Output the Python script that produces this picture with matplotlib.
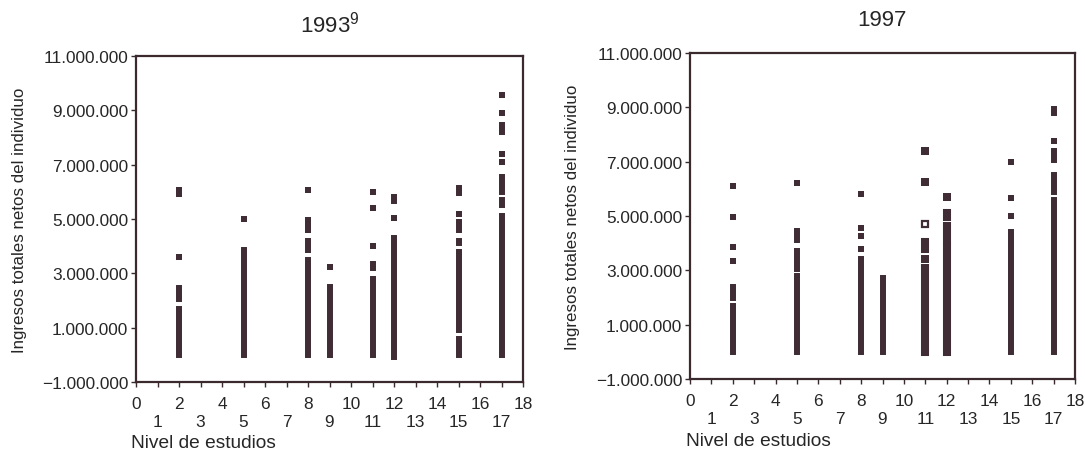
import matplotlib
matplotlib.use("Agg")
import matplotlib.pyplot as plt
from matplotlib.ticker import FuncFormatter, FixedLocator

plt.rcParams['font.family'] = ['Liberation Sans', 'DejaVu Sans']
plt.rcParams['mathtext.fontset'] = 'custom'
plt.rcParams['mathtext.rm'] = 'Liberation Sans'

# Income (pesetas) by education level.
# Runs: stretches of densely stacked observations (level, low, high).
runs_1993 = [
    (2, 0, 1_700_000), (2, 2_050_000, 2_450_000),
    (5, 0, 3_850_000),
    (8, 0, 3_500_000), (8, 3_850_000, 4_200_000),
    (9, 0, 2_500_000),
    (11, 0, 2_800_000), (11, 3_200_000, 3_350_000),
    (12, -80_000, 4_300_000), (12, 5_650_000, 5_800_000),
    (15, 0, 600_000), (15, 900_000, 3_800_000), (15, 4_100_000, 4_200_000),
    (15, 4_600_000, 4_900_000), (15, 5_950_000, 6_150_000),
    (17, 0, 5_100_000), (17, 5_500_000, 5_700_000), (17, 6_000_000, 6_550_000),
    (17, 8_200_000, 8_450_000),
]
# Isolated observations (level, income).
points_1993 = [
    (2, 6_050_000), (2, 5_920_000), (2, 3_600_000),
    (5, 5_000_000),
    (8, 6_050_000), (8, 4_950_000), (8, 4_820_000), (8, 4_600_000),
    (9, 3_250_000),
    (11, 6_000_000), (11, 5_400_000), (11, 4_000_000),
    (12, 5_050_000),
    (15, 5_200_000),
    (17, 9_550_000), (17, 8_900_000), (17, 7_400_000), (17, 7_100_000),
]

runs_1997 = [
    (2, 0, 1_700_000), (2, 2_000_000, 2_400_000),
    (5, 0, 2_800_000), (5, 3_050_000, 3_700_000), (5, 4_100_000, 4_450_000),
    (8, 0, 3_400_000),
    (9, 0, 2_700_000),
    (11, 0, 3_100_000), (11, 3_800_000, 4_050_000),
    (12, 0, 3_850_000), (12, 4_100_000, 4_650_000), (12, 4_950_000, 5_100_000),
    (15, 0, 4_400_000),
    (17, 0, 5_600_000), (17, 5_900_000, 6_500_000), (17, 7_050_000, 7_400_000),
    (17, 8_800_000, 8_950_000),
]
points_1997 = [
    (2, 6_100_000), (2, 4_950_000), (2, 3_850_000), (2, 3_350_000),
    (5, 6_200_000),
    (8, 5_800_000), (8, 4_550_000), (8, 4_250_000), (8, 3_800_000),
    (11, 7_400_000), (11, 6_250_000), (11, 3_400_000),
    (12, 5_700_000),
    (15, 7_000_000), (15, 5_650_000), (15, 5_000_000),
    (17, 7_750_000),
]
open_points_1997 = [(11, 4_700_000)]

y_ticks = [-1_000_000, 1_000_000, 3_000_000, 5_000_000, 7_000_000, 9_000_000, 11_000_000]
x_even = list(range(0, 19, 2))
x_odd = list(range(1, 18, 2))

MARK = '#3f2c34'
FRAME = '#3a2a2e'
TEXT = '#262626'
W, H = 1085, 460


def thousands(v, _pos=None):
    s = f"{abs(int(round(v))):,}".replace(',', '.')
    return ('\u2212' + s) if v < 0 else s


def draw_panel(ax, runs, points, open_points, widths):
    for lvl, lo, hi in runs:
        w = widths.get(lvl, 4.3)
        ax.plot([lvl, lvl], [lo, hi], color=MARK, lw=w,
                solid_capstyle='projecting')
    for lvl, v in points:
        w = widths.get(lvl, 4.3)
        ax.plot([lvl], [v], marker='s', ms=w, mew=0, color=MARK, ls='none')
    for lvl, v in open_points:
        w = widths.get(lvl, 4.3)
        ax.plot([lvl], [v], marker='s', ms=w - 1.0, mew=1.6, mec=MARK,
                mfc='white', ls='none')

    ax.set_xlim(0, 18)
    ax.set_ylim(-1_000_000, 11_000_000)
    ax.xaxis.set_major_locator(FixedLocator(x_even))
    ax.xaxis.set_minor_locator(FixedLocator(x_odd))
    ax.set_xticklabels([str(v) for v in x_even])
    ax.set_xticklabels([str(v) for v in x_odd], minor=True)
    ax.yaxis.set_major_locator(FixedLocator(y_ticks))
    ax.yaxis.set_major_formatter(FuncFormatter(thousands))
    ax.tick_params(axis='x', which='major', length=3.6, width=1.0,
                   color=FRAME, pad=6.3, labelsize=12.4, labelcolor=TEXT)
    ax.tick_params(axis='x', which='minor', length=3.6, width=1.0,
                   color=FRAME, pad=19.5, labelsize=12.4, labelcolor=TEXT)
    ax.tick_params(axis='y', which='major', length=3.6, width=1.0,
                   color=FRAME, pad=2, labelsize=12.4, labelcolor=TEXT)
    for sp in ax.spines.values():
        sp.set_color(FRAME)
        sp.set_linewidth(1.6)


fig = plt.figure(figsize=(W / 100, H / 100), dpi=100)
fig.patch.set_facecolor('white')


def axes_px(left, right, top, bottom):
    return fig.add_axes([left / W, 1 - bottom / H, (right - left) / W,
                         (bottom - top) / H])


ax1 = axes_px(136, 523, 57, 383)
ax2 = axes_px(690, 1075, 54, 380)

draw_panel(ax1, runs_1993, points_1993, [], {})
draw_panel(ax2, runs_1997, points_1997, open_points_1997, {11: 5.8, 12: 5.8})

fig.text(330 / W, 1 - 25 / H, '1993$^{9}$', fontsize=16, color=TEXT,
         ha='center', va='center')
fig.text(882 / W, 1 - 21 / H, '1997', fontsize=16, color=TEXT,
         ha='center', va='center')

ylab = 'Ingresos totales netos del individuo'
fig.text(20 / W, 1 - 220 / H, ylab, rotation=90, fontsize=12.2, color=TEXT,
         ha='center', va='center')
fig.text(573 / W, 1 - 217 / H, ylab, rotation=90, fontsize=12.2, color=TEXT,
         ha='center', va='center')

fig.text(131 / W, 1 - 444 / H, 'Nivel de estudios', fontsize=13.8,
         color=TEXT, ha='left', va='center')
fig.text(686 / W, 1 - 442 / H, 'Nivel de estudios', fontsize=13.8,
         color=TEXT, ha='left', va='center')

fig.savefig('out.png', dpi=100, facecolor='white')
